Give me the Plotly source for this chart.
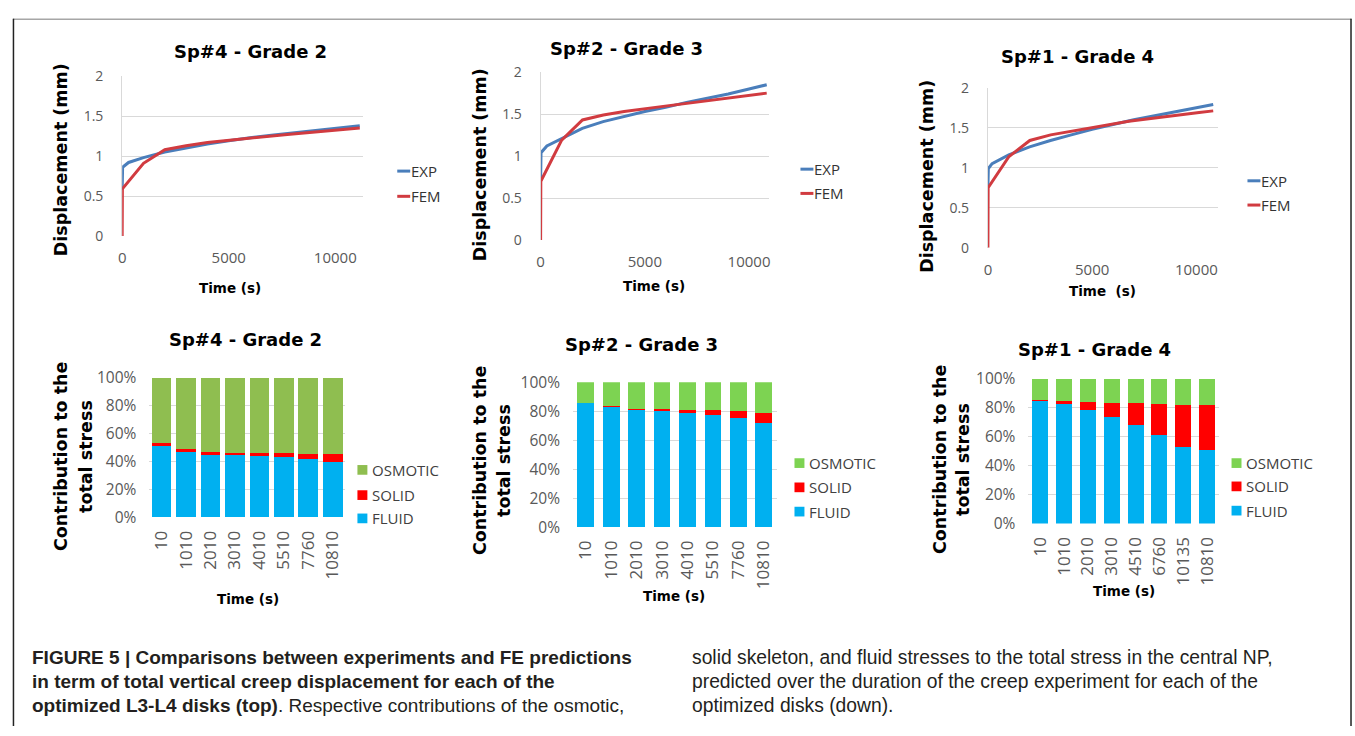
import plotly.graph_objects as go

W, H = 1355, 736

# ---------------- creep displacement (top row) ----------------
SP4_EXP_T = [0, 20, 300, 1000, 2000, 3000, 4000, 5000, 6000, 7000, 8000, 9000, 10000, 11150]
SP4_EXP_D = [0.58, 0.86, 0.92, 0.98, 1.05, 1.10, 1.15, 1.19, 1.23, 1.26, 1.29, 1.32, 1.35, 1.38]
SP4_FEM_T = [0, 10, 1000, 2000, 3000, 4000, 5500, 7750, 11150]
SP4_FEM_D = [0, 0.59, 0.91, 1.08, 1.13, 1.17, 1.21, 1.27, 1.35]

SP2_EXP_T = [0, 20, 300, 1000, 2000, 3000, 4000, 5000, 6000, 7000, 8000, 9000, 10000, 10850]
SP2_EXP_D = [0.70, 1.04, 1.12, 1.21, 1.33, 1.41, 1.47, 1.53, 1.58, 1.64, 1.69, 1.74, 1.80, 1.85]
SP2_FEM_T = [0, 10, 1010, 2010, 3010, 4010, 5510, 7760, 10850]
SP2_FEM_D = [0, 0.70, 1.19, 1.43, 1.49, 1.53, 1.58, 1.65, 1.75]

SP1_EXP_T = [0, 20, 200, 1000, 2000, 3000, 4000, 5000, 6000, 7000, 8000, 9000, 10000, 10810]
SP1_EXP_D = [0.76, 0.99, 1.05, 1.16, 1.26, 1.34, 1.41, 1.48, 1.54, 1.60, 1.65, 1.70, 1.75, 1.79]
SP1_FEM_T = [0, 10, 1010, 2010, 3010, 4510, 6760, 10135, 10810]
SP1_FEM_D = [0, 0.75, 1.14, 1.34, 1.41, 1.48, 1.58, 1.69, 1.71]

DISP_TICKS = [0, 0.5, 1, 1.5, 2]
DISP_LABELS = ["0", "0.5", "1", "1.5", "2"]
TIME_TICKS = [0, 5000, 10000]
TIME_LABELS = ["0", "5000", "10000"]

# ---------------- stress contributions (bottom row, %) ----------------
SP4_TIMES = ["10", "1010", "2010", "3010", "4010", "5510", "7760", "10810"]
SP4_FLUID = [51.0, 47.1, 45.2, 44.5, 44.1, 43.2, 42.0, 40.1]
SP4_SOLID = [2.6, 1.9, 1.4, 1.9, 1.8, 2.7, 3.7, 5.1]
SP4_OSMOTIC = [46.4, 51.0, 53.4, 53.6, 54.1, 54.1, 54.3, 54.8]

SP2_TIMES = ["10", "1010", "2010", "3010", "4010", "5510", "7760", "10810"]
SP2_FLUID = [85.5, 82.8, 81.0, 80.1, 78.8, 77.2, 75.2, 72.1]
SP2_SOLID = [0.5, 0.5, 0.7, 1.2, 2.2, 3.4, 4.7, 6.9]
SP2_OSMOTIC = [14.0, 16.7, 18.3, 18.7, 19.0, 19.4, 20.1, 21.0]

SP1_TIMES = ["10", "1010", "2010", "3010", "4510", "6760", "10135", "10810"]
SP1_FLUID = [84.8, 82.8, 78.7, 74.0, 68.2, 61.3, 52.8, 51.2]
SP1_SOLID = [0.9, 2.0, 5.4, 9.7, 15.0, 21.3, 28.9, 30.5]
SP1_OSMOTIC = [14.3, 15.2, 15.9, 16.3, 16.8, 17.4, 18.3, 18.3]

PCT_TICKS = [0, 20, 40, 60, 80, 100]
PCT_LABELS = ["0%", "20%", "40%", "60%", "80%", "100%"]

# ---------------- styling ----------------
EXP_COLOR = "#4a7ebb"
FEM_COLOR = "#d13b40"
FLUID_COLOR = "#00b0f0"
SOLID_COLOR = "#ff0000"
OSMOTIC_COLORS = ["#8fbe50", "#7dd352", "#7dd352"]
GRID = "#d9d9d9"
TICK_COLOR = "#595959"
TITLE_FAMILY = "DejaVu Sans"
TICK_FAMILY = "Open Sans"


def fx(p):
    return p / W


def fy(p):
    return 1 - p / H


fig = go.Figure()
annotations = []
shapes = []


def ann(text, x, y, size, family=TITLE_FAMILY, color="#000000", angle=0, xanchor="center", yanchor="middle"):
    annotations.append(dict(
        text=text, x=fx(x), y=fy(y), xref="paper", yref="paper", showarrow=False,
        textangle=angle, xanchor=xanchor, yanchor=yanchor, borderpad=0,
        font=dict(family=family, size=size, color=color)))


# top-row panel geometry (pixels)
top_panels = [
    dict(idx=1, title="Sp#4 - Grade 2", exp=(SP4_EXP_T, SP4_EXP_D), fem=(SP4_FEM_T, SP4_FEM_D),
         x0=118.7, x1=361, y0=66, y1=231, xmax=11320,
         title_xy=(248, 41), ytitle_xy=(58, 152), xtitle="Time (s)", xtitle_xy=(227, 285),
         leg_x=395, leg_y=(164, 190)),
    dict(idx=2, title="Sp#2 - Grade 3", exp=(SP2_EXP_T, SP2_EXP_D), fem=(SP2_FEM_T, SP2_FEM_D),
         x0=539, x1=768, y0=62, y1=235, xmax=10940,
         title_xy=(625, 38), ytitle_xy=(478, 157), xtitle="Time (s)", xtitle_xy=(653, 282),
         leg_x=800, leg_y=(162, 187)),
    dict(idx=3, title="Sp#1 - Grade 4", exp=(SP1_EXP_T, SP1_EXP_D), fem=(SP1_FEM_T, SP1_FEM_D),
         x0=988.3, x1=1219, y0=78, y1=243, xmax=11020,
         title_xy=(1078, 46), ytitle_xy=(927, 169), xtitle="Time\u00a0 (s)", xtitle_xy=(1103, 288),
         leg_x=1249, leg_y=(174, 199)),
]

layout_axes = {}
for p in top_panels:
    i = p["idx"]
    xa = "x" if i == 1 else f"x{i}"
    ya = "y" if i == 1 else f"y{i}"
    fig.add_trace(go.Scatter(x=p["exp"][0], y=p["exp"][1], mode="lines", name="EXP",
                             line=dict(color=EXP_COLOR, width=3), xaxis=xa, yaxis=ya, showlegend=False))
    fig.add_trace(go.Scatter(x=p["fem"][0], y=p["fem"][1], mode="lines", name="FEM",
                             line=dict(color=FEM_COLOR, width=3), xaxis=xa, yaxis=ya, showlegend=False))
    xkey = "xaxis" if i == 1 else f"xaxis{i}"
    ykey = "yaxis" if i == 1 else f"yaxis{i}"
    layout_axes[xkey] = dict(
        domain=[fx(p["x0"]), fx(p["x1"])], range=[0, p["xmax"]], anchor=ya,
        tickmode="array", tickvals=TIME_TICKS, ticktext=TIME_LABELS,
        showgrid=False, zeroline=False, showline=False,
        ticks="", ticklabelstandoff=11,
        tickfont=dict(family=TICK_FAMILY, size=15, color=TICK_COLOR))
    layout_axes[ykey] = dict(
        domain=[fy(p["y1"]), fy(p["y0"])], range=[0, 2], anchor=xa,
        tickmode="array", tickvals=DISP_TICKS, ticktext=DISP_LABELS,
        showgrid=True, gridcolor=GRID, gridwidth=1, zeroline=False,
        showline=True, linecolor=GRID, linewidth=1,
        ticks="", ticklabelstandoff=15,
        tickfont=dict(family=TICK_FAMILY, size=14, color=TICK_COLOR))
    ann(f"<b>{p['title']}</b>", *p["title_xy"], 18)
    ann("<b>Displacement (mm)</b>", *p["ytitle_xy"], 17.5, angle=-90)
    ann(f"<b>{p['xtitle']}</b>", *p["xtitle_xy"], 13.5)
    for name, color, ly in (("EXP", EXP_COLOR, p["leg_y"][0]), ("FEM", FEM_COLOR, p["leg_y"][1])):
        shapes.append(dict(type="line", xref="paper", yref="paper",
                           x0=fx(p["leg_x"]), x1=fx(p["leg_x"] + 13), y0=fy(ly), y1=fy(ly),
                           line=dict(color=color, width=3)))
        ann(name, p["leg_x"] + 13, ly, 15, family=TICK_FAMILY, color="#333333", xanchor="left")

# bottom-row panel geometry (pixels)
bottom_panels = [
    dict(idx=4, title="Sp#4 - Grade 2", cats=SP4_TIMES,
         series=(SP4_FLUID, SP4_SOLID, SP4_OSMOTIC), osm=OSMOTIC_COLORS[0], width=0.81,
         x0=146, x1=342.6, y0=377.3, y1=521,
         title_xy=(243, 338), ytitle_x=(58, 83), ytitle_y=458, xtitle_xy=(245, 605),
         leg_x=355, leg_y=(472, 498, 522)),
    dict(idx=5, title="Sp#2 - Grade 3", cats=SP2_TIMES,
         series=(SP2_FLUID, SP2_SOLID, SP2_OSMOTIC), osm=OSMOTIC_COLORS[1], width=0.66,
         x0=571.5, x1=776, y0=381.7, y1=531,
         title_xy=(640, 343), ytitle_x=(478, 502), ytitle_y=462, xtitle_xy=(673, 602),
         leg_x=794, leg_y=(465, 490, 515)),
    dict(idx=6, title="Sp#1 - Grade 4", cats=SP1_TIMES,
         series=(SP1_FLUID, SP1_SOLID, SP1_OSMOTIC), osm=OSMOTIC_COLORS[2], width=0.67,
         x0=1029, x1=1220.3, y0=378.3, y1=527.3,
         title_xy=(1095, 348), ytitle_x=(940, 963), ytitle_y=461, xtitle_xy=(1125, 597),
         leg_x=1233, leg_y=(465, 489, 514)),
]

for p in bottom_panels:
    i = p["idx"]
    xa, ya = f"x{i}", f"y{i}"
    fluid, solid, osmotic = p["series"]
    for name, vals, color in (("FLUID", fluid, FLUID_COLOR), ("SOLID", solid, SOLID_COLOR),
                              ("OSMOTIC", osmotic, p["osm"])):
        fig.add_trace(go.Bar(x=p["cats"], y=vals, name=name, marker=dict(color=color, line=dict(width=0)),
                             width=p["width"], xaxis=xa, yaxis=ya, showlegend=False))
    layout_axes[f"xaxis{i}"] = dict(
        domain=[fx(p["x0"]), fx(p["x1"])], anchor=ya, type="category",
        range=[-0.5, 7.5], showgrid=False, zeroline=False, showline=False,
        ticks="", tickangle=-90, ticklabelstandoff=9,
        tickfont=dict(family=TICK_FAMILY, size=17, color=TICK_COLOR))
    layout_axes[f"yaxis{i}"] = dict(
        domain=[fy(p["y1"]), fy(p["y0"])], range=[0, 100], anchor=xa,
        tickmode="array", tickvals=PCT_TICKS, ticktext=PCT_LABELS,
        showgrid=True, gridcolor=GRID, gridwidth=1,
        zeroline=False, showline=False, ticks="", ticklabelstandoff=12,
        tickfont=dict(family=TICK_FAMILY, size=15.5, color=TICK_COLOR))
    ann(f"<b>{p['title']}</b>", *p["title_xy"], 18)
    ann("<b>Contribution to the</b>", p["ytitle_x"][0], p["ytitle_y"], 17.5, angle=-90)
    ann("<b>total stress</b>", p["ytitle_x"][1], p["ytitle_y"], 17.5, angle=-90)
    ann("<b>Time (s)</b>", *p["xtitle_xy"], 13.5)
    for name, color, ly in (("OSMOTIC", p["osm"], p["leg_y"][0]), ("SOLID", SOLID_COLOR, p["leg_y"][1]),
                            ("FLUID", FLUID_COLOR, p["leg_y"][2])):
        shapes.append(dict(type="rect", xref="paper", yref="paper",
                           x0=fx(p["leg_x"]), x1=fx(p["leg_x"] + 10), y0=fy(ly + 5), y1=fy(ly - 5),
                           fillcolor=color, line=dict(width=0)))
        ann(name, p["leg_x"] + 14, ly, 15, family=TICK_FAMILY, color="#404040", xanchor="left")

# caption
CAP_FAMILY = "Liberation Sans"
CAP_COLOR = "#231f20"
caption_left = [
    "<b>FIGURE 5 | Comparisons between experiments and FE predictions</b>",
    "<b>in term of total vertical creep displacement for each of the</b>",
    "<b>optimized L3-L4 disks (top)</b>. Respective contributions of the osmotic,",
]
caption_right = [
    "solid skeleton, and fluid stresses to the total stress in the central NP,",
    "predicted over the duration of the creep experiment for each of the",
    "optimized disks (down).",
]
for k, (lt, rt) in enumerate(zip(caption_left, caption_right)):
    ly = 665 + k * 25
    ann(lt, 27, ly, 19, family=CAP_FAMILY, color=CAP_COLOR, xanchor="left")
    ann(rt, 690, ly, 19.3, family=CAP_FAMILY, color=CAP_COLOR, xanchor="left")

# figure frame
shapes.append(dict(type="line", xref="paper", yref="paper", x0=fx(9), x1=fx(1353.5), y0=fy(7.5), y1=fy(7.5),
                   line=dict(color="#a6a6a6", width=1.5)))
shapes.append(dict(type="line", xref="paper", yref="paper", x0=fx(9.5), x1=fx(9.5), y0=fy(7), y1=0,
                   line=dict(color="#222222", width=1.5)))
shapes.append(dict(type="line", xref="paper", yref="paper", x0=fx(1353), x1=fx(1353), y0=fy(7), y1=0,
                   line=dict(color="#222222", width=1.5)))

fig.update_layout(
    width=W, height=H, margin=dict(l=0, r=0, t=0, b=0),
    paper_bgcolor="white", plot_bgcolor="white",
    barmode="stack", showlegend=False,
    annotations=annotations, shapes=shapes,
    **layout_axes,
)

# the figure fills the page exactly, so drop the default body margin
fig.write_html("out.html", post_script="document.body.style.margin='0';")
